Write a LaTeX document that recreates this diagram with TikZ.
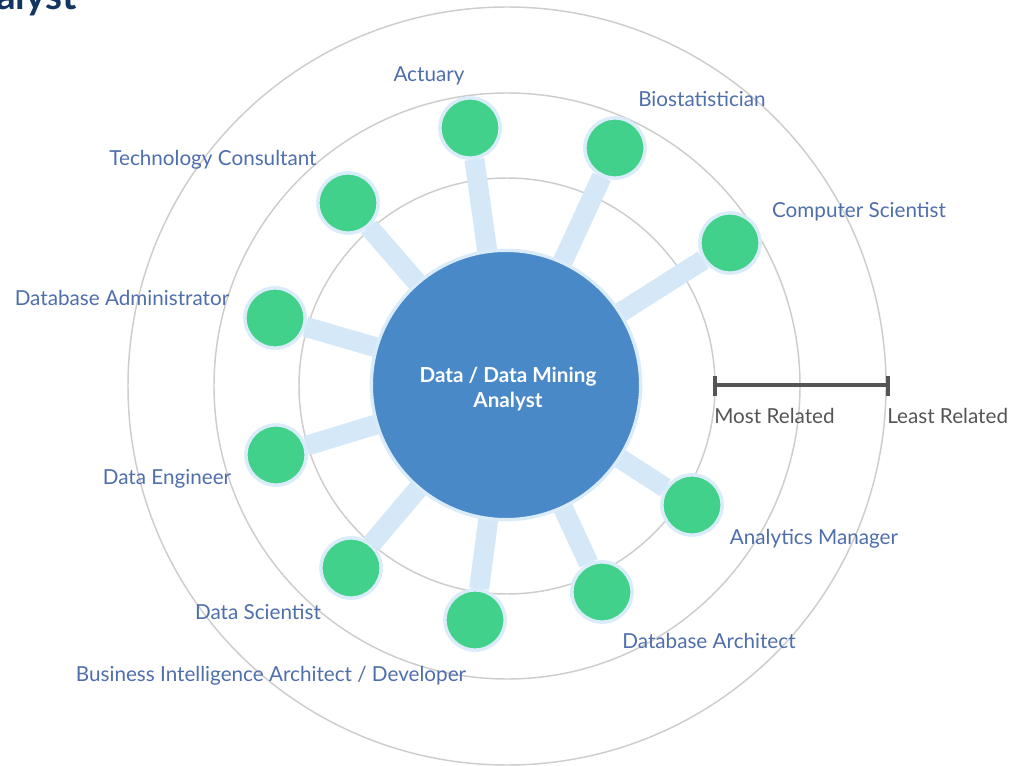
\documentclass[tikz,border=0pt]{standalone}
\usepackage{fontspec}
\setmainfont{Lato}
\usepackage{tikz}
\usepackage{xcolor}

\definecolor{ringgray}{RGB}{205,205,205}
\definecolor{linkblue}{RGB}{212,232,247}
\definecolor{hubblue}{RGB}{74,137,200}
\definecolor{jobgreen}{RGB}{66,209,139}
\definecolor{edgeblue}{RGB}{218,236,250}
\definecolor{labelblue}{RGB}{78,110,172}
\definecolor{scalegray}{RGB}{85,85,85}
\definecolor{titlenavy}{RGB}{18,54,95}

\tikzset{
  ring/.style={draw=ringgray, line width=1.1pt},
  link/.style={draw=linkblue, line width=15pt},
  hub/.style={circle, fill=hubblue, draw=edgeblue, line width=2.5pt,
    minimum size=202pt, inner sep=0pt},
  hubtext/.style={align=center, text=white, inner sep=0pt,
    font=\bfseries\fontsize{15.5}{19}\selectfont},
  job/.style={circle, fill=jobgreen, draw=edgeblue, line width=2.5pt,
    minimum size=45pt, inner sep=0pt},
  joblabel/.style={text=labelblue, font=\fontsize{15.5}{18}\selectfont, inner sep=0pt},
  scalelabel/.style={text=scalegray, font=\fontsize{15.5}{18}\selectfont, inner sep=0pt, anchor=west}
}

\begin{document}
\begin{tikzpicture}[x=0.75pt, y=-0.75pt]

			\useasboundingbox (0,0) rectangle (1013,766);

			% cut title
			\begin{scope}
				\clip (0,0) rectangle (300,60);
				\node[anchor=base west, inner sep=0pt, text=titlenavy,
				      font=\bfseries\fontsize{29}{33}\selectfont] (title) at (-4,10) {alyst};
			\end{scope}

			% rings
			\draw[ring] (507,386) circle (379);
			\draw[ring] (507,386) circle (293);
			\draw[ring] (507,386) circle (208);

			% hub and related jobs
			\coordinate (c) at (506,385);
			\node[job] (actuary) at (470,128) {};
			\node[job] (bio) at (615,148) {};
			\node[job] (cs) at (730,243) {};
			\node[job] (tech) at (348,203) {};
			\node[job] (dba) at (275,318) {};
			\node[job] (deng) at (276,455) {};
			\node[job] (dsci) at (351,568) {};
			\node[job] (bia) at (475,620) {};
			\node[job] (darch) at (602,592) {};
			\node[job] (amgr) at (692,505) {};

			% links
			\draw[link] (c) -- (actuary);
			\draw[link] (c) -- (bio);
			\draw[link] (c) -- (cs);
			\draw[link] (c) -- (tech);
			\draw[link] (c) -- (dba);
			\draw[link] (c) -- (deng);
			\draw[link] (c) -- (dsci);
			\draw[link] (c) -- (bia);
			\draw[link] (c) -- (darch);
			\draw[link] (c) -- (amgr);

			% redraw circles over the links
			\node[hub] (hub) at (c) {};
			\node[hubtext] (hubname) at (508,389) {Data / Data Mining\\Analyst};
			\node[job] at (actuary) {};
			\node[job] at (bio) {};
			\node[job] at (cs) {};
			\node[job] at (tech) {};
			\node[job] at (dba) {};
			\node[job] at (deng) {};
			\node[job] at (dsci) {};
			\node[job] at (bia) {};
			\node[job] at (darch) {};
			\node[job] at (amgr) {};

			% job labels
			\node[joblabel] (lactuary) at (429,76) {Actuary};
			\node[joblabel] (lbio) at (702,99) {Biostatistician};
			\node[joblabel] (lcs) at (859,212) {Computer Scientist};
			\node[joblabel] (ltech) at (213,160) {Technology Consultant};
			\node[joblabel] (ldba) at (122,298) {Database Administrator};
			\node[joblabel] (ldeng) at (167,479) {Data Engineer};
			\node[joblabel] (ldsci) at (258,612) {Data Scientist};
			\node[joblabel] (lbia) at (271,676) {Business Intelligence Architect / Developer};
			\node[joblabel] (ldarch) at (709,641) {Database Architect};
			\node[joblabel] (lamgr) at (814,539) {Analytics Manager};

			% scale bar
			\coordinate (most) at (715,385);
			\coordinate (least) at (888,385);
			\draw[scalegray, line width=2.4pt] (most) -- (least);
			\draw[scalegray, line width=2.4pt] (715,376) -- (715,396);
			\draw[scalegray, line width=2.4pt] (888,376) -- (888,396);
			\node[scalelabel] (lmost) at (714,416) {Most Related};
			\node[scalelabel] (lleast) at (887,416) {Least Related};

		\end{tikzpicture}
\end{document}
